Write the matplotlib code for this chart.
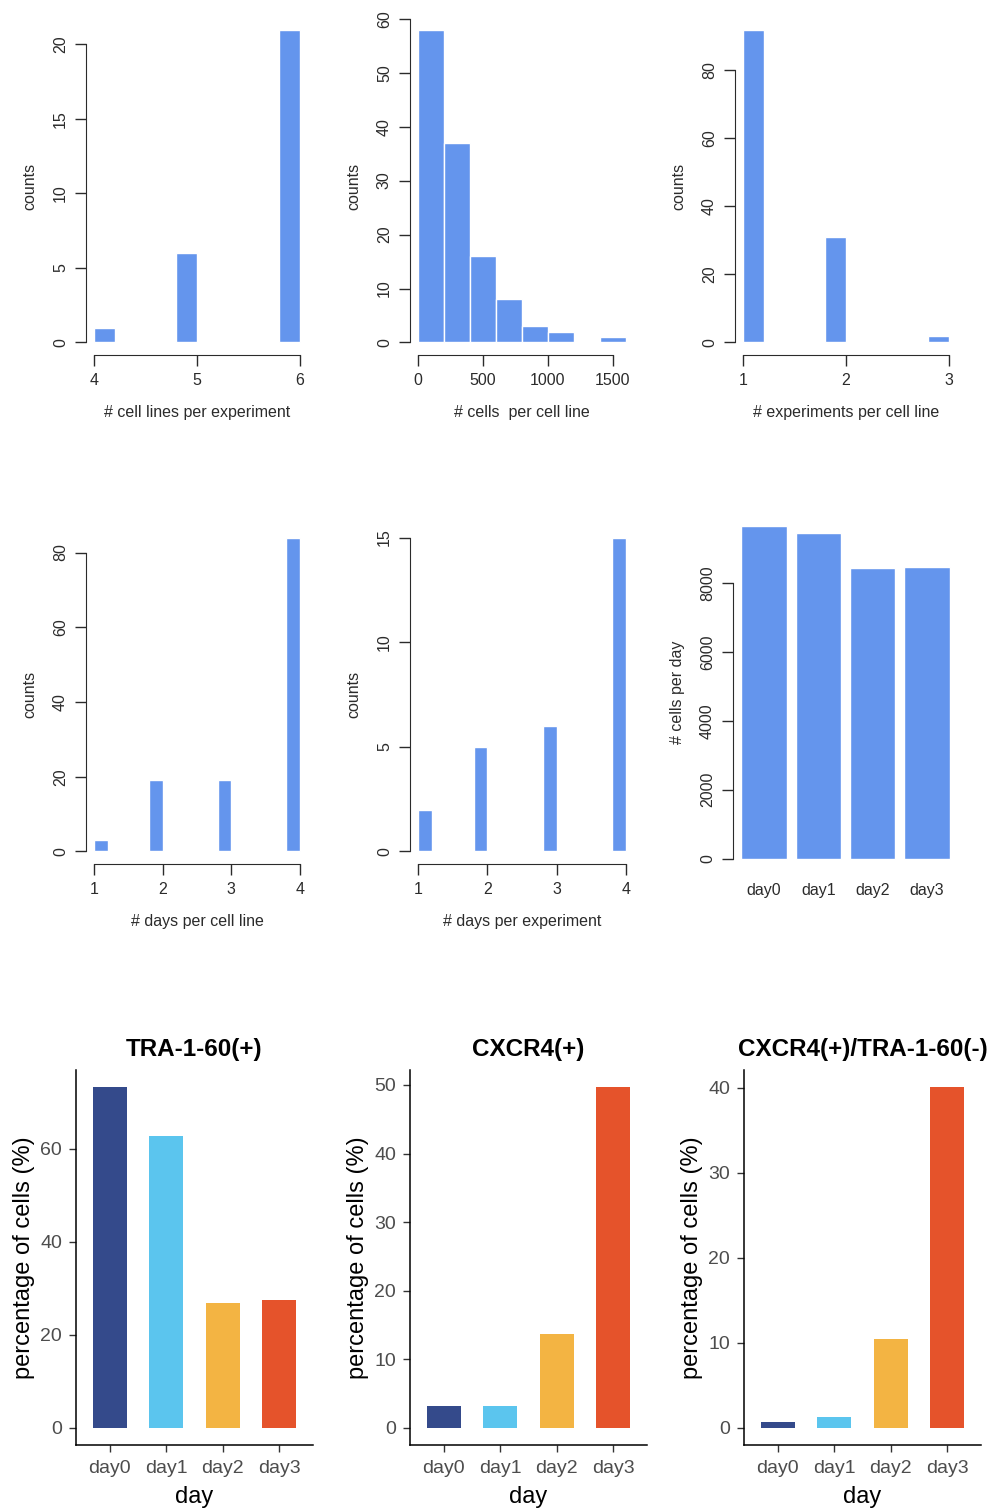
import numpy as np
import matplotlib
matplotlib.use("Agg")
import matplotlib.pyplot as plt

plt.rcParams['font.family'] = ['Liberation Sans', 'DejaVu Sans']

W, H = 990, 1509

# histogram bins and counts
lines_edges = np.linspace(4, 6, 11)
lines_counts = [1, 0, 0, 0, 6, 0, 0, 0, 0, 21]

cells_edges = np.arange(0, 1601, 200)
cells_counts = [58, 37, 16, 8, 3, 2, 0, 1]

exps_edges = np.linspace(1, 3, 11)
exps_counts = [92, 0, 0, 0, 31, 0, 0, 0, 0, 2]

dayline_edges = np.linspace(1, 4, 16)
dayline_counts = [3, 0, 0, 0, 19, 0, 0, 0, 0, 19, 0, 0, 0, 0, 84]

dayexp_edges = np.linspace(1, 4, 16)
dayexp_counts = [2, 0, 0, 0, 5, 0, 0, 0, 0, 6, 0, 0, 0, 0, 15]

days = ['day0', 'day1', 'day2', 'day3']
cells_per_day = [9650, 9450, 8435, 8465]

tra_pos = [73.3, 62.8, 26.9, 27.5]
cxcr4_pos = [3.2, 3.2, 13.7, 49.7]
double_pos = [0.7, 1.3, 10.5, 40.1]
day_colors = ['#344a8b', '#5bc5ee', '#f3b443', '#e5532b']

blue = '#6495ed'
ink = '#2b2b2b'

fig = plt.figure(figsize=(W / 100, H / 100), dpi=100)


def px_axes(l, t, r, b):
    return fig.add_axes([l / W, 1 - b / H, (r - l) / W, (b - t) / H])


def r_style(ax, xticks, yticks, xlim, ylim, xlabel, ylabel):
    ax.set_xlim(*xlim)
    ax.set_ylim(*ylim)
    for s in ['top', 'right']:
        ax.spines[s].set_visible(False)
    ax.spines['left'].set_bounds(yticks[0], yticks[-1])
    ax.spines['left'].set_color(ink)
    if xticks is not None:
        ax.spines['bottom'].set_bounds(xticks[0], xticks[-1])
        ax.spines['bottom'].set_color(ink)
        ax.set_xticks(xticks)
    ax.set_yticks(yticks)
    ax.set_yticklabels([str(v) for v in yticks], rotation=90, va='center')
    ax.tick_params(length=8, width=1, color=ink, labelcolor=ink,
                   labelsize=11.5, pad=5)
    ax.tick_params(axis='x', pad=5)
    ax.set_xlabel(xlabel, fontsize=11.5, color=ink, labelpad=12)
    ax.set_ylabel(ylabel, fontsize=11.5, color=ink, labelpad=11)


def hist_panel(box, edges, counts, xticks, yticks, xlabel):
    ax = px_axes(*box)
    ax.bar(edges[:-1], counts, width=np.diff(edges), align='edge',
           color=blue, edgecolor='white', linewidth=1)
    lo, hi = edges[0], edges[-1]
    pad_x = 0.04 * (hi - lo)
    top = max(counts)
    r_style(ax, xticks, yticks, (lo - pad_x, hi + pad_x),
            (-0.04 * top, 1.04 * top), xlabel, 'counts')
    return ax


# first row
hist_panel((86, 17, 308, 355), lines_edges, lines_counts, [4, 5, 6],
           [0, 5, 10, 15, 20], '# cell lines per experiment')
hist_panel((410, 17, 634, 355), cells_edges, cells_counts, [0, 500, 1000, 1500],
           [0, 10, 20, 30, 40, 50, 60], '# cells  per cell line')
hist_panel((735, 17, 957, 355), exps_edges, exps_counts, [1, 2, 3],
           [0, 20, 40, 60, 80], '# experiments per cell line')

# second row
hist_panel((86, 525, 308, 864), dayline_edges, dayline_counts, [1, 2, 3, 4],
           [0, 20, 40, 60, 80], '# days per cell line')
hist_panel((410, 525, 634, 864), dayexp_edges, dayexp_counts, [1, 2, 3, 4],
           [0, 5, 10, 15], '# days per experiment')

# cells per day barplot
ax = px_axes(733, 513, 958, 872)
xpos = 0.7 + 1.2 * np.arange(len(days))
ax.bar(xpos, cells_per_day, width=1, color=blue, edgecolor='white', linewidth=1)
top = max(cells_per_day)
r_style(ax, None, [0, 2000, 4000, 6000, 8000], (0.2 - 0.184, 4.8 + 0.184),
        (-0.04 * top, 1.04 * top), '', '# cells per day')
ax.spines['bottom'].set_visible(False)
ax.set_xticks(xpos)
ax.set_xticklabels(days)
ax.tick_params(axis='x', length=0, pad=8)

# third row: percentage bar charts
pct_panels = [
    ((76, 1070, 313, 1445), 'TRA-1-60(+)', tra_pos, [0, 20, 40, 60]),
    ((410, 1070, 647, 1445), 'CXCR4(+)', cxcr4_pos, [0, 10, 20, 30, 40, 50]),
    ((744, 1070, 981, 1445), 'CXCR4(+)/TRA-1-60(-)', double_pos, [0, 10, 20, 30, 40]),
]
for box, title, vals, yticks in pct_panels:
    ax = px_axes(*box)
    x = np.arange(1, len(days) + 1)
    ax.bar(x, vals, width=0.6, color=day_colors)
    top = max(vals)
    ax.set_xlim(0.4, 4.6)
    ax.set_ylim(-0.05 * top, 1.05 * top)
    ax.set_xticks(x)
    ax.set_xticklabels(days)
    ax.set_yticks(yticks)
    for s in ['top', 'right']:
        ax.spines[s].set_visible(False)
    for s in ['left', 'bottom']:
        ax.spines[s].set_color('black')
        ax.spines[s].set_linewidth(1.1)
    ax.tick_params(length=5, width=1, color='#333333', labelcolor='#4d4d4d',
                   labelsize=14, pad=5)
    ax.tick_params(axis='x', pad=6)
    ax.set_xlabel('day', fontsize=17, labelpad=6)
    ax.set_ylabel('percentage of cells (%)', fontsize=17, labelpad=4)
    ax.set_title(title, fontsize=17.5, fontweight='bold', pad=10)

fig.savefig('out.png', dpi=100, facecolor='white')
